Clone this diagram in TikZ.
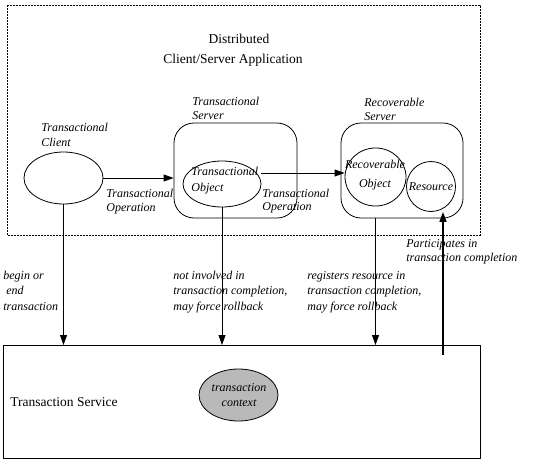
\documentclass[tikz,border=0pt]{standalone}
\usepackage{fontspec}
\setmainfont{Liberation Serif}
\usepackage{tikz}
\usetikzlibrary{arrows.meta,shapes.geometric}

\tikzset{
  lbl/.style={anchor=base west,inner sep=0pt,font=\fontsize{12}{14}\selectfont\itshape},
  title/.style={anchor=base,inner sep=0pt,font=\fontsize{13.5}{15}\selectfont},
  oval/.style={draw,ellipse,inner sep=0pt},
  serverbox/.style={draw,rounded corners=20pt,minimum width=123pt,minimum height=95pt},
  flow/.style={-{Triangle[length=10pt,width=7pt]}}
}

\begin{document}
\begin{tikzpicture}[x=1pt,y=-1pt,line width=0.8pt]
	\useasboundingbox (0,0) rectangle (553,463);
	% application area
	\draw[dash pattern=on 2pt off 1pt] (7,5) rectangle (480,235);
	\node[title] (dist) at (239,43) {Distributed};
	\node[title] (app) at (233,63) {Client/Server Application};

	% client
	\node[lbl] (clientlbl) at (41,131) {Transactional};
	\node[lbl] at (41,146) {Client};
	\node[oval,minimum width=79pt,minimum height=52pt] (client) at (63.5,178) {};

	% transactional server
	\node[lbl] at (192,105) {Transactional};
	\node[lbl] at (192,119) {Server};
	\node[serverbox] (tsrv) at (235.5,170.5) {};
	\node[oval,minimum width=78pt,minimum height=46pt] (tobj) at (222,184) {};
	\node[lbl] at (191,175) {Transactional};
	\node[lbl] at (191,191) {Object};

	% recoverable server
	\node[lbl] at (364,106) {Recoverable};
	\node[lbl] at (364,120) {Server};
	\node[serverbox,minimum width=122pt] (rsrv) at (402,170.5) {};
	\node[oval,minimum width=61pt,minimum height=58pt] (robj) at (375.5,177) {};
	\node[lbl,anchor=base] at (375,168) {Recoverable};
	\node[lbl,anchor=base] at (375,187) {Object};
	\node[oval,minimum width=49pt,minimum height=50pt,
	      label={[lbl,anchor=center]center:Resource}] (res) at (431,186.5) {};

	% operations
	\node[lbl] at (106,197) {Transactional};
	\node[lbl] at (106,211) {Operation};
	\node[lbl] at (262,197) {Transactional};
	\node[lbl] at (262,210) {Operation};
	\draw[flow] (client.east) -- (client.east -| tsrv.west);
	\draw[flow] ([yshift=11pt]tobj.east) -- ([yshift=11pt]tobj.east -| robj.west);

	% transaction service
	\node[draw,minimum width=477pt,minimum height=113pt,anchor=north west] (svc) at (3,345) {};
	\node[anchor=base west,inner sep=0pt,font=\fontsize{13.5}{15}\selectfont] at (10,406) {Transaction Service};
	\node[oval,fill=gray!55,minimum width=79pt,minimum height=52pt] (ctx) at (238.5,395) {};
	\node[lbl,anchor=base] at (239,391) {transaction};
	\node[lbl,anchor=base] at (239,406) {context};

	% calls into the service
	\draw[flow] (client.south) -- (client.south |- svc.north);
	\draw[flow] (tobj.south) -- (tobj.south |- svc.north);
	\draw[flow] (robj.south |- rsrv.south) -- (robj.south |- svc.north);
	\coordinate (part) at (443,355);
	\draw[flow,line width=1.6pt] (part) -- (part |- res.south);

	\node[lbl] at (3,279) {begin or};
	\node[lbl] at (3,294) {\ end};
	\node[lbl] at (3,310) {transaction};
	\node[lbl] at (173,279) {not involved in};
	\node[lbl] at (173,294) {transaction completion,};
	\node[lbl] at (173,310) {may force rollback};
	\node[lbl] at (307,279) {registers resource in};
	\node[lbl] at (307,294) {transaction completion,};
	\node[lbl] at (307,310) {may force rollback};
	\node[lbl] at (406,247) {Participates in};
	\node[lbl] at (406,261) {transaction completion};
\end{tikzpicture}
\end{document}
